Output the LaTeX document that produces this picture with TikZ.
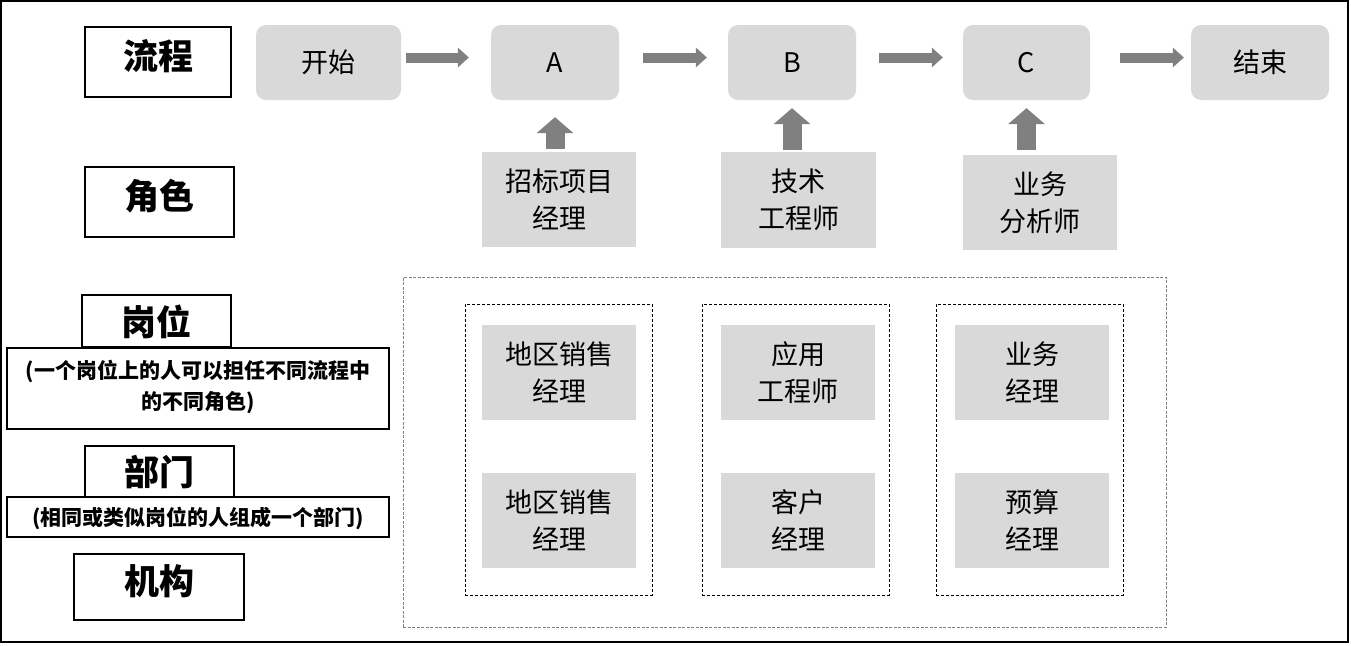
\documentclass[tikz,border=0pt]{standalone}
\usepackage{fontspec}
\setmainfont{Noto Sans CJK SC}
\usetikzlibrary{arrows.meta,calc}
\definecolor{boxgray}{HTML}{D9D9D9}
\definecolor{arrgray}{HTML}{808080}
\definecolor{dashgray}{HTML}{7F7F7F}
\begin{document}
\begin{tikzpicture}[x=1pt,y=-1pt,
  flow/.style={rounded corners=10pt, fill=boxgray, inner sep=0pt, minimum height=75pt, font=\fontsize{27}{37}\selectfont, align=center},
  role/.style={fill=boxgray, inner sep=0pt, minimum width=154pt, minimum height=95pt, font=\fontsize{27}{37}\selectfont, align=center},
  lbox/.style={draw=black, line width=1.2pt, inner sep=0pt, fill=white},
  ltext/.style={inner sep=0pt, font=\bfseries\fontsize{35}{40}\selectfont},
  dtext/.style={inner sep=0pt, font=\bfseries\fontsize{21}{31}\selectfont, align=center},
  harrow/.style={draw=arrgray, line width=10pt, -{Triangle[length=11pt,width=20pt,line width=0pt]}},
  varrow/.style={draw=arrgray, line width=19pt, -{Triangle[length=16pt,width=37pt,line width=0pt]}},
  outerdash/.style={draw=dashgray, line width=0.8pt, dash pattern=on 3pt off 1.5pt},
  innerdash/.style={draw=black, line width=0.8pt, dash pattern=on 3pt off 2pt},
]
\useasboundingbox (0,0) rectangle (1351,645);
\draw[line width=1.5pt] (1,1) rectangle (1348,642);

% left labels
\node[lbox, minimum width=146pt, minimum height=70pt] (lflow) at (158,62) {};
\node[ltext] (lflowt) at (158,56) {流程};
\node[lbox, minimum width=149pt, minimum height=70pt] (lrole) at (159.5,202) {};
\node[ltext] (lrolet) at (159.5,196) {角色};
\node[lbox, minimum width=149pt, minimum height=52pt] (lpos) at (156.5,321) {};
\node[ltext] (lpost) at (156.5,322) {岗位};
\node[lbox, minimum width=382pt, minimum height=81pt] (ldesc1) at (198,388.5) {};
\node[dtext] (ldesc1t) at (198,387) {(一个岗位上的人可以担任不同流程中\\的不同角色)};
\node[lbox, minimum width=149pt, minimum height=51pt] (ldept) at (159.5,471.5) {};
\node[ltext] (ldeptt) at (159.5,472) {部门};
\node[lbox, minimum width=382pt, minimum height=40pt] (ldesc2) at (198,517) {};
\node[dtext] (ldesc2t) at (198,518) {(相同或类似岗位的人组成一个部门)};
\node[lbox, minimum width=170pt, minimum height=66pt] (lorg) at (159,587) {};
\node[ltext] (lorgt) at (159,581) {机构};

% flow
\node[flow, minimum width=145pt] (start) at (328.5,62.5) {开始};
\node[flow, minimum width=128pt] (A) at (555,62.5) {A};
\node[flow, minimum width=128pt] (B) at (792,62.5) {B};
\node[flow, minimum width=127pt] (C) at (1026.5,62.5) {C};
\node[flow, minimum width=138pt] (end) at (1260,62.5) {结束};

\draw[harrow, shorten <=5pt, shorten >=22pt] ([yshift=5pt]start.east) -- ([yshift=5pt]A.west);
\draw[harrow, shorten <=24pt, shorten >=21pt] ([yshift=5pt]A.east) -- ([yshift=5pt]B.west);
\draw[harrow, shorten <=23pt, shorten >=20pt] ([yshift=5pt]B.east) -- ([yshift=5pt]C.west);
\draw[harrow, shorten <=30pt, shorten >=7pt] ([yshift=5pt]C.east) -- ([yshift=5pt]end.west);

% roles
\node[role] (r1) at (559,199) {招标项目\\经理};
\node[role, minimum width=155pt, minimum height=96pt] (r2) at (798.5,200) {技术\\工程师};
\node[role] (r3) at (1040,202.5) {业务\\分析师};

\draw[varrow, shorten <=2pt, shorten >=17pt] (A.south |- r1.north) -- (A.south);
\draw[varrow, shorten <=2pt, shorten >=8pt] (B.south |- r2.north) -- (B.south);
\draw[varrow, shorten <=5pt, shorten >=8pt] (C.south |- r3.north) -- (C.south);

% positions
\node[outerdash, inner sep=0pt, minimum width=763pt, minimum height=350pt] (org) at (784.5,452) {};
\node[innerdash, inner sep=0pt, minimum width=187pt, minimum height=291pt] (d1) at (558.5,449.5) {};
\node[innerdash, inner sep=0pt, minimum width=187pt, minimum height=291pt] (d2) at (795.5,449.5) {};
\node[innerdash, inner sep=0pt, minimum width=187pt, minimum height=291pt] (d3) at (1029.5,449.5) {};

\node[role] (p11) at (559,372.5) {地区销售\\经理};
\node[role] (p12) at (559,520.5) {地区销售\\经理};
\node[role] (p21) at (798,372.5) {应用\\工程师};
\node[role] (p22) at (798,520.5) {客户\\经理};
\node[role] (p31) at (1032,372.5) {业务\\经理};
\node[role] (p32) at (1032,520.5) {预算\\经理};
\end{tikzpicture}
\end{document}
